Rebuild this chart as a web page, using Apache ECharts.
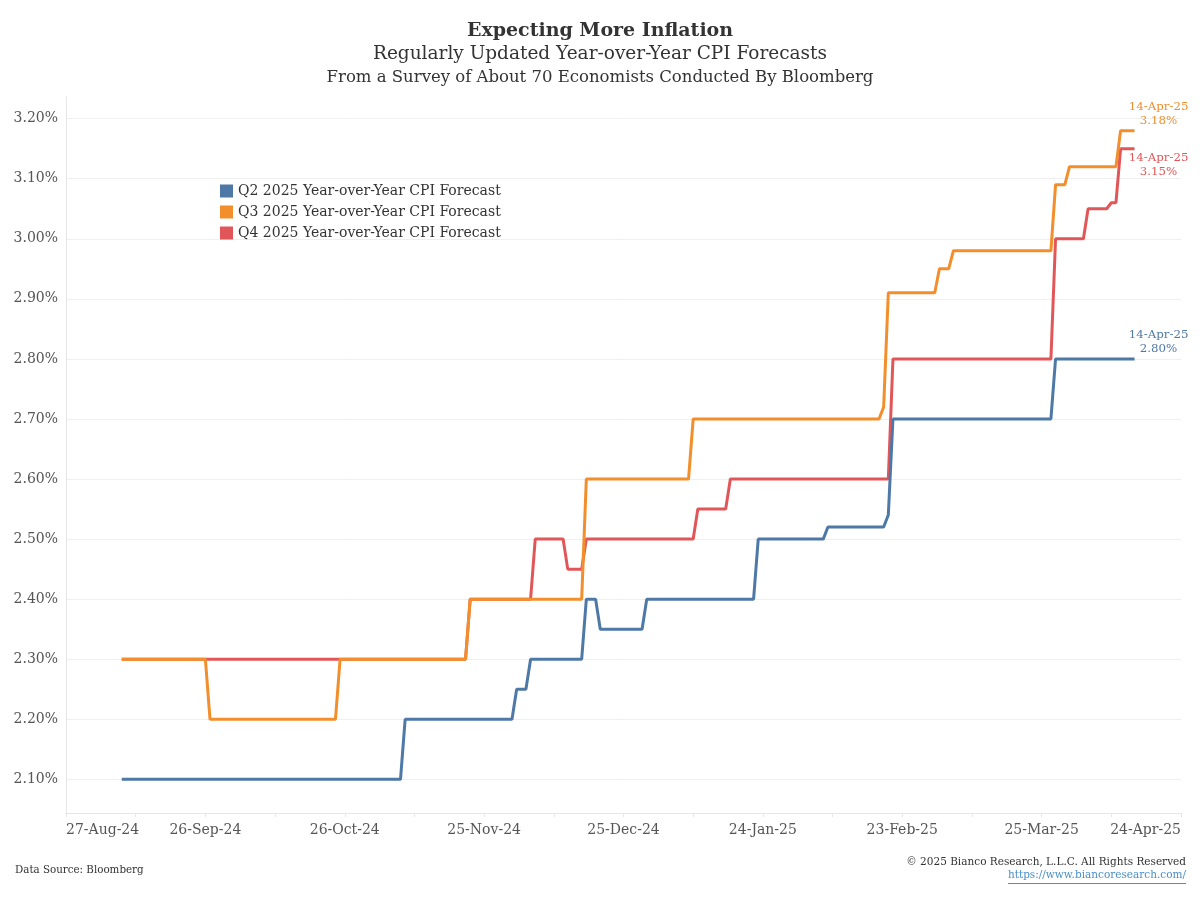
<!DOCTYPE html>
<html>
<head>
<meta charset="utf-8">
<script src="https://cdn.jsdelivr.net/npm/echarts@6/dist/echarts.min.js"></script>
<style>html,body{margin:0;padding:0;background:#fff}#c{width:1200px;height:900px}</style>
</head>
<body>
<div id="c"></div>
<script>
// ---- Data ----
const seriesNames = [
  'Q2 2025 Year-over-Year CPI Forecast',
  'Q3 2025 Year-over-Year CPI Forecast',
  'Q4 2025 Year-over-Year CPI Forecast'
];
const q2Dates = ['2024-09-08','2024-11-07','2024-11-08','2024-12-01','2024-12-02','2024-12-04','2024-12-05',
  '2024-12-16','2024-12-17','2024-12-19','2024-12-20','2024-12-29','2024-12-30','2025-01-22','2025-01-23',
  '2025-02-06','2025-02-07','2025-02-19','2025-02-20','2025-02-21','2025-03-27','2025-03-28','2025-04-14'];
const q2Values = [2.10,2.10,2.20,2.20,2.25,2.25,2.30,
  2.30,2.40,2.40,2.35,2.35,2.40,2.40,2.50,
  2.50,2.52,2.52,2.54,2.70,2.70,2.80,2.80];

const q3Dates = ['2024-09-08','2024-09-26','2024-09-27','2024-10-24','2024-10-25','2024-11-21','2024-11-22',
  '2024-12-16','2024-12-17','2025-01-08','2025-01-09','2025-02-18','2025-02-19','2025-02-20',
  '2025-03-02','2025-03-03','2025-03-05','2025-03-06','2025-03-27','2025-03-28','2025-03-30','2025-03-31',
  '2025-04-10','2025-04-11','2025-04-14'];
const q3Values = [2.30,2.30,2.20,2.20,2.30,2.30,2.40,
  2.40,2.60,2.60,2.70,2.70,2.72,2.91,
  2.91,2.95,2.95,2.98,2.98,3.09,3.09,3.12,
  3.12,3.18,3.18];

const q4Dates = ['2024-09-08','2024-11-21','2024-11-22','2024-12-05','2024-12-06','2024-12-12','2024-12-13',
  '2024-12-16','2024-12-17','2025-01-09','2025-01-10','2025-01-16','2025-01-17','2025-02-20','2025-02-21',
  '2025-03-27','2025-03-28','2025-04-03','2025-04-04','2025-04-08','2025-04-09','2025-04-10','2025-04-11','2025-04-14'];
const q4Values = [2.30,2.30,2.40,2.40,2.50,2.50,2.45,
  2.45,2.50,2.50,2.55,2.55,2.60,2.60,2.80,
  2.80,3.00,3.00,3.05,3.05,3.06,3.06,3.15,3.15];

const xStart = '2024-08-27';
const xEnd = '2025-04-24';
const yMin = 2.044;
const yMax = 3.236;

// ---- Helpers ----
const DAY = 86400000;
const MONTHS = ['Jan','Feb','Mar','Apr','May','Jun','Jul','Aug','Sep','Oct','Nov','Dec'];
function fmtDate(ms) {
  const d = new Date(ms);
  return d.getUTCDate() + '-' + MONTHS[d.getUTCMonth()] + '-' + String(d.getUTCFullYear()).slice(2);
}
function pairs(dates, vals) { return dates.map((d, i) => [Date.parse(d), vals[i]]); }
const FONT = 'DejaVu Serif';
const xMin = Date.parse(xStart), xMax = Date.parse(xEnd);

const colors = { q2: '#4e79a7', q3: '#f28e2b', q4: '#e15759' };

function mkSeries(name, dates, vals, color, offY) {
  const last = [Date.parse(dates[dates.length - 1]), vals[vals.length - 1]];
  return {
    name, type: 'line', data: pairs(dates, vals), showSymbol: false, symbol: 'none',
    lineStyle: { width: 3, color }, itemStyle: { color },
    emphasis: { disabled: true },
    markPoint: {
      symbol: 'circle', symbolSize: 1, itemStyle: { color: 'rgba(0,0,0,0)' },
      data: [{ coord: last }],
      label: {
        show: true, position: 'inside', offset: [24, offY], align: 'center',
        fontFamily: FONT, fontSize: 11.8, lineHeight: 14, color,
        formatter: () => fmtDate(last[0]) + '\n' + last[1].toFixed(2) + '%'
      }
    }
  };
}

const chart = echarts.init(document.getElementById('c'));
chart.setOption({
  animation: false,
  backgroundColor: '#fff',
  textStyle: { fontFamily: FONT },
  title: [
    { text: 'Expecting More Inflation', left: 'center', top: 22, padding: 0,
      textStyle: { fontFamily: FONT, fontSize: 19, fontWeight: 'bold', color: '#333' } },
    { text: 'Regularly Updated Year-over-Year CPI Forecasts', left: 'center', top: 45, padding: 0,
      textStyle: { fontFamily: FONT, fontSize: 18.5, fontWeight: 'normal', color: '#333' } },
    { text: 'From a Survey of About 70 Economists Conducted By Bloomberg', left: 'center', top: 69, padding: 0,
      textStyle: { fontFamily: FONT, fontSize: 16.5, fontWeight: 'normal', color: '#333' } },
    { text: 'Data Source: Bloomberg', left: 15, top: 865, padding: 0,
      textStyle: { fontFamily: FONT, fontSize: 10.3, fontWeight: 'normal', color: '#333' } },
    { text: '\u00A9 2025 Bianco Research, L.L.C. All Rights Reserved', right: 14, top: 857, padding: 0,
      textStyle: { fontFamily: FONT, fontSize: 10.5, fontWeight: 'normal', color: '#333' } },
    { text: 'https://www.biancoresearch.com/', right: 14, top: 870, padding: 0,
      textStyle: { fontFamily: FONT, fontSize: 10.5, fontWeight: 'normal', color: '#4a8fc7' } }
  ],
  graphic: [
    { type: 'rect', right: 14, top: 883, shape: { width: 178, height: 1 }, style: { fill: '#4a8fc7' }, silent: true }
  ],
  legend: {
    orient: 'vertical', left: 220, top: 184, padding: 0,
    itemWidth: 13, itemHeight: 13, itemGap: 7, icon: 'rect',
    data: seriesNames,
    textStyle: { fontFamily: FONT, fontSize: 14, color: '#333' }
  },
  grid: { left: 66, right: 19, top: 97, bottom: 87, containLabel: false },
  xAxis: {
    type: 'value', min: xMin, max: xMax, interval: 15 * DAY,
    axisLine: { show: true, lineStyle: { color: '#e6e6e6', width: 1 } },
    axisTick: { show: true, length: 4, lineStyle: { color: '#e6e6e6' } },
    splitLine: { show: false },
    axisLabel: {
      color: '#555', fontFamily: FONT, fontSize: 14, margin: 10,
      alignMinLabel: 'left', alignMaxLabel: 'right',
      formatter: v => (Math.round((v - xMin) / DAY) % 30 === 0 ? fmtDate(v) : '')
    }
  },
  yAxis: {
    type: 'value', min: yMin, max: yMax, splitNumber: 12,
    axisLine: { show: true, lineStyle: { color: '#e6e6e6', width: 1 } },
    axisTick: { show: false },
    splitLine: { show: true, showMinLine: false, showMaxLine: false, lineStyle: { color: '#efefef', width: 1 } },
    axisLabel: {
      color: '#555', fontFamily: FONT, fontSize: 14, margin: 8,
      showMinLabel: false, showMaxLabel: false,
      formatter: v => (Math.abs(v * 10 - Math.round(v * 10)) < 1e-6 ? v.toFixed(2) + '%' : '')
    }
  },
  series: [
    mkSeries(seriesNames[2], q4Dates, q4Values, colors.q4, 16),
    mkSeries(seriesNames[1], q3Dates, q3Values, colors.q3, -17),
    mkSeries(seriesNames[0], q2Dates, q2Values, colors.q2, -17)
  ],
  color: [colors.q4, colors.q3, colors.q2]
});
</script>
</body>
</html>
